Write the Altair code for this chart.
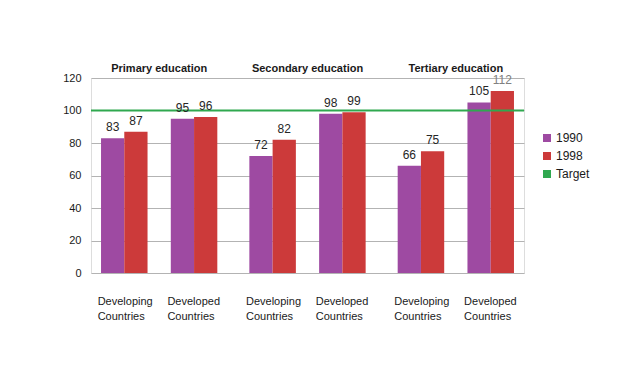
import altair as alt
import pandas as pd

groups = ["Primary education", "Secondary education", "Tertiary education"]
countries = ["Developing", "Developed"]
years = ["1990", "1998"]
values_1990 = [83, 95, 72, 98, 66, 105]
values_1998 = [87, 96, 82, 99, 75, 112]
target_value = 100
y_ticks = [0, 20, 40, 60, 80, 100, 120]
slots = ["Developing-1990", "Developing-1998", "gap", "Developed-1990", "Developed-1998"]

bar_rows = []
label_rows = []
i = 0
for g in groups:
    for c in countries:
        for yr, vals in zip(years, [values_1990, values_1998]):
            bar_rows.append({"group": g, "country": c, "year": yr,
                             "value": vals[i], "slot": f"{c}-{yr}"})
        label_rows.append({"group": g, "slot": f"{c}-1990", "label": f"{c}\nCountries"})
        i += 1
bars_df = pd.DataFrame(bar_rows)
labels_df = pd.DataFrame(label_rows)
target_df = pd.DataFrame({"value": [target_value], "series": ["Target"]})

FONT = "Liberation Sans"
W, H = 433, 195

x_enc = alt.X("group:N", scale=alt.Scale(domain=groups, paddingInner=0.216, paddingOuter=0.0676),
              axis=alt.Axis(orient="top", title=None, domain=False, ticks=False, tickSize=0,
                            labelAngle=0, labelFontWeight="bold", labelFontSize=11,
                            labelPadding=5, labelColor="#1a1a1a", labelFont=FONT))
xo_enc = alt.XOffset("slot:N", scale=alt.Scale(domain=slots))
y_scale = alt.Scale(domain=[0, 120], nice=False)
y_axis = alt.Axis(title=None, values=y_ticks, ticks=False, domain=False, labelOverlap=False,
                  labelPadding=10, labelFontSize=11, labelColor="#1a1a1a",
                  labelFont=FONT, gridColor="#b3b3b3")
y_enc = alt.Y("value:Q", scale=y_scale, axis=y_axis)

color_scale = alt.Scale(domain=["1990", "1998", "Target"],
                        range=["#9E4AA2", "#CC3A3A", "#2FA84F"])
legend = alt.Legend(title=None, orient="none", legendX=450, legendY=54,
                    symbolType="square", symbolSize=64, labelFontSize=12,
                    labelFont=FONT, labelColor="#1a1a1a", rowPadding=6,
                    symbolStrokeWidth=0, labelOffset=3)

bars = alt.Chart(bars_df).mark_bar().encode(
    x=x_enc,
    xOffset=xo_enc,
    y=y_enc,
    color=alt.Color("year:N", scale=color_scale, legend=legend),
)

value_text = alt.Chart(bars_df).mark_text(baseline="bottom", dy=-4, fontSize=12, font=FONT).encode(
    x=x_enc,
    xOffset=xo_enc,
    y=y_enc,
    text=alt.Text("value:Q"),
    color=alt.condition(alt.datum.value > 110, alt.value("#808080"), alt.value("#262626")),
)

country_text = alt.Chart(labels_df).mark_text(align="left", baseline="top", dx=-15,
                                              fontSize=11, font=FONT, lineBreak="\n",
                                              lineHeight=15, color="#1a1a1a").encode(
    x=x_enc,
    xOffset=xo_enc,
    y=alt.value(H + 23),
    text="label:N",
)

target = alt.Chart(target_df).mark_rule(strokeWidth=2).encode(
    y=y_enc,
    color=alt.Color("series:N", scale=color_scale, legend=legend),
)

chart = alt.layer(bars, target, value_text, country_text).properties(
    width=W, height=H,
    autosize=alt.AutoSizeParams(type="none"),
    padding={"left": 83, "top": 70, "right": 108, "bottom": 90},
).configure_view(stroke="#a6a6a6", strokeWidth=1.3).configure(background="white")

chart.save("out.html", embed_options={"renderer": "svg", "actions": False})
